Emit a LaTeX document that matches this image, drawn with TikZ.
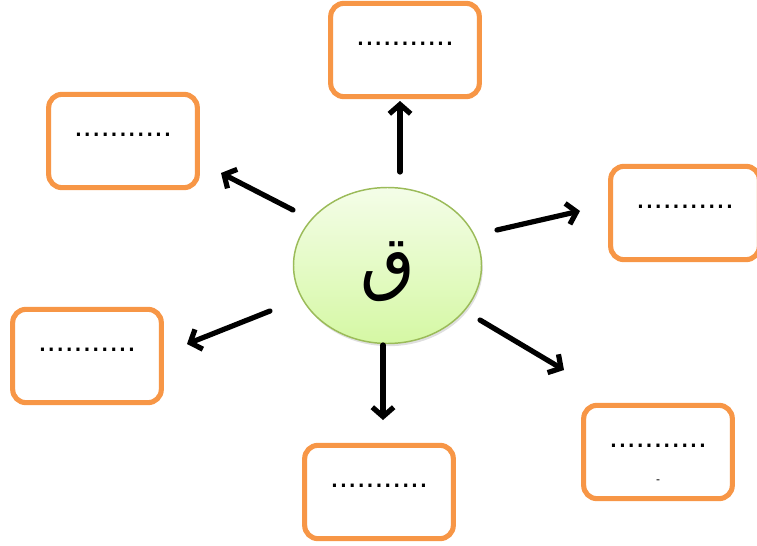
\documentclass[tikz,border=0pt]{standalone}
\usepackage{fontspec}
\setmainfont{Liberation Sans}
\newfontfamily\arabicfont[Script=Arabic]{DejaVu Sans}
\TeXXeTstate=1
\usetikzlibrary{arrows.meta,shapes.geometric,shadows}
\definecolor{boxorange}{HTML}{F79646}
\definecolor{ovalline}{HTML}{9BBB59}
\definecolor{ovaltop}{HTML}{F4FDE8}
\definecolor{ovalbot}{HTML}{D5F8A4}

\begin{document}
\begin{tikzpicture}[x=0.75pt,y=-0.75pt,
    box/.style={draw=boxorange,line width=3.8pt,rounded corners=10pt,fill=white,
      minimum width=111.5pt,minimum height=70pt,inner sep=0pt,
      font=\fontsize{24}{24}\selectfont,text height=2pt,text depth=9pt},
    arr/.style={line width=3.9pt,line cap=round,-{Straight Barb[length=7pt,width=16pt]}}]
  \useasboundingbox (0,0) rectangle (757,546);
  % boxes
  \node[box] (top) at (405,50) {...........};
  \node[box] (upleft) at (123,141) {...........};
  \node[box] (right) at (685,213) {...........};
  \node[box] (left) at (87,356) {...........};
  \node[box] (bottom) at (379,492) {...........};
  \node[box] (lowright) at (658,452) {...........};
  \node[font=\fontsize{9}{9}\selectfont,inner sep=0pt] (dash) at (658,482) {-};
  % centre
  \node[ellipse,draw=ovalline,line width=1.1pt,top color=ovaltop,bottom color=ovalbot,
    minimum width=141pt,minimum height=117pt,
    drop shadow={opacity=0.25,shadow xshift=1pt,shadow yshift=-2pt}] (qaf) at (387.5,265.5)
    {\raisebox{-5pt}[\height][\depth]{\arabicfont\fontsize{53}{53}\selectfont\beginR ق\endR}};
  % arrow ends
  \coordinate (t0) at (400,172); \coordinate (t1) at (400,101);
  \coordinate (ul0) at (293,210); \coordinate (ul1) at (221,173);
  \coordinate (r0) at (497,230); \coordinate (r1) at (580,211);
  \coordinate (l0) at (270,311); \coordinate (l1) at (187,344);
  \coordinate (b0) at (383,345); \coordinate (b1) at (383,420);
  \coordinate (lr0) at (480,320); \coordinate (lr1) at (564,370);
  \draw[arr] (t0) -- (t1);
  \draw[arr] (ul0) -- (ul1);
  \draw[arr] (r0) -- (r1);
  \draw[arr] (l0) -- (l1);
  \draw[arr] (b0) -- (b1);
  \draw[arr] (lr0) -- (lr1);
\end{tikzpicture}
\end{document}
